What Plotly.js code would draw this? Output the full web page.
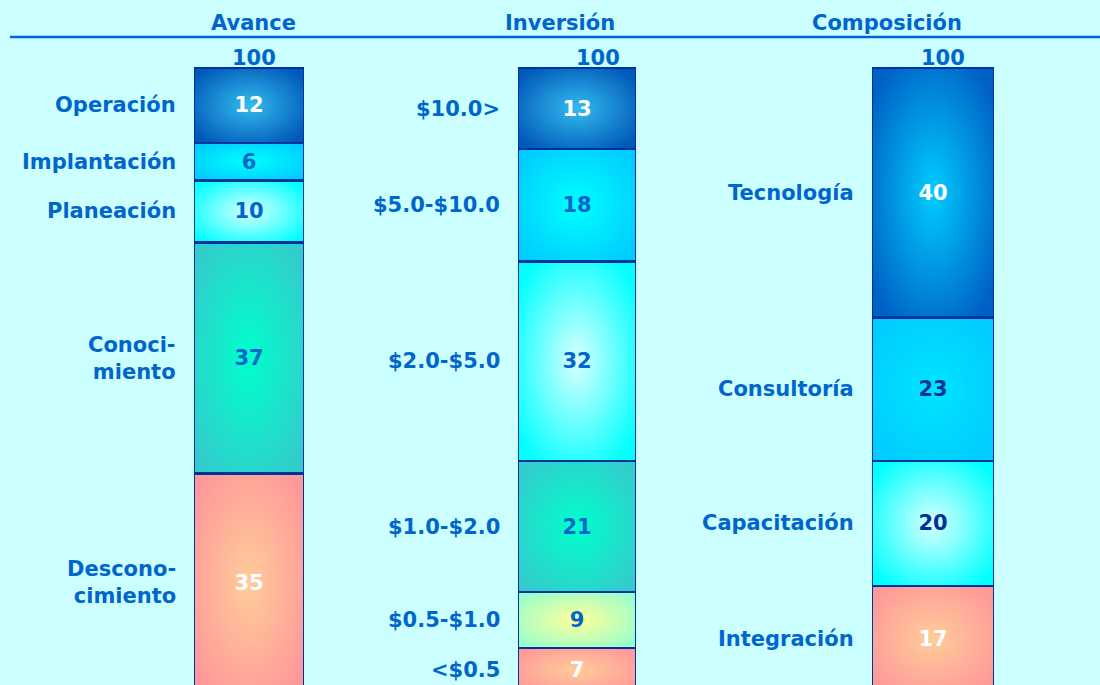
<!DOCTYPE html>
<html>
<head>
<meta charset="utf-8">
<script src="https://cdn.plot.ly/plotly-3.0.1.min.js"></script>
<style>
  html, body { margin: 0; padding: 0; background: #CCFFFF; }
  #chart { width: 1100px; height: 685px; }
</style>
</head>
<body>
<svg width="0" height="0" style="position:absolute">
  <defs id="gradDefs"></defs>
</svg>
<div id="chart"></div>
<script>
// ---------------- DATA (bottom segment first) ----------------
const groupTitles = ['Avance', 'Inversión', 'Composición'];

const avanceCategories = ['Descono-<br>cimiento', 'Conoci-<br>miento', 'Planeación', 'Implantación', 'Operación'];
const avanceValues = [35, 37, 10, 6, 12];

const inversionCategories = ['&lt;$0.5', '$0.5-$1.0', '$1.0-$2.0', '$2.0-$5.0', '$5.0-$10.0', '$10.0>'];
const inversionValues = [7, 9, 21, 32, 18, 13];

const composicionCategories = ['Integración', 'Capacitación', 'Consultoría', 'Tecnología'];
const composicionValues = [17, 20, 23, 40];

// ---------------- STYLES ----------------
// [edge colour, centre colour, value-text colour] per segment
const avanceStyles = [
  ['#FF9999', '#FFCC99', '#FFFFFF'],
  ['#33CCCC', '#00FFCC', '#0066CC'],
  ['#00FFFF', '#D8FFFF', '#0066CC'],
  ['#00CCFF', '#00FFFF', '#0066CC'],
  ['#0058B8', '#33BBEE', '#FFFFFF']
];
const inversionStyles = [
  ['#FF9999', '#FFCC99', '#FFFFFF'],
  ['#99FFCC', '#FFFF99', '#0066CC'],
  ['#33CCCC', '#00FFCC', '#0066CC'],
  ['#00FFFF', '#D8FFFF', '#0066CC'],
  ['#00CCFF', '#00FFFF', '#0066CC'],
  ['#0058B8', '#33BBEE', '#FFFFFF']
];
const composicionStyles = [
  ['#FF9999', '#FFCC99', '#FFFFFF'],
  ['#00FFFF', '#D8FFFF', '#003399'],
  ['#00CCFF', '#00E4FF', '#003399'],
  ['#0060C4', '#00CCFF', '#FFFFFF']
];

const groups = [
  { title: groupTitles[0], cats: avanceCategories, vals: avanceValues, styles: avanceStyles,
    axis: 'x', dom: [194, 304], titleX: 253, totalShift: 5 },
  { title: groupTitles[1], cats: inversionCategories, vals: inversionValues, styles: inversionStyles,
    axis: 'x2', dom: [518, 636], titleX: 560, totalShift: 21 },
  { title: groupTitles[2], cats: composicionCategories, vals: composicionValues, styles: composicionStyles,
    axis: 'x3', dom: [872, 994], titleX: 887, totalShift: 10 }
];

const W = 1100, H = 685;
const FONT = 'DejaVu Sans, Verdana, sans-serif';
const BLUE = '#0066CC';
const FS = 21;

function mix(a, b) {
  const pa = parseInt(a.slice(1), 16), pb = parseInt(b.slice(1), 16);
  const r = ((pa >> 16) + (pb >> 16)) >> 1;
  const g = (((pa >> 8) & 255) + ((pb >> 8) & 255)) >> 1;
  const bl = ((pa & 255) + (pb & 255)) >> 1;
  return 'rgb(' + r + ',' + g + ',' + bl + ')';
}

const traces = [];
const annotations = [];
const gradients = [];
const layout = {
  width: W, height: H,
  margin: { l: 0, r: 0, t: 0, b: 0 },
  paper_bgcolor: '#CCFFFF',
  plot_bgcolor: 'rgba(0,0,0,0)',
  barmode: 'stack',
  bargap: 0,
  showlegend: false,
  font: { family: FONT, color: BLUE },
  yaxis: { range: [1.1, 110.9], visible: false, fixedrange: true },
  shapes: [{
    type: 'line', xref: 'paper', yref: 'paper',
    x0: 10 / W, x1: 1, y0: 1 - 37 / H, y1: 1 - 37 / H,
    line: { color: BLUE, width: 2.5 }
  }],
  annotations: annotations
};

groups.forEach(function (g, gi) {
  const axName = g.axis === 'x' ? 'xaxis' : 'xaxis' + g.axis.slice(1);
  layout[axName] = {
    domain: [g.dom[0] / W, g.dom[1] / W],
    visible: false, fixedrange: true,
    anchor: 'y', type: 'category'
  };
  let cum = 0;
  g.vals.forEach(function (v, i) {
    const st = g.styles[i];
    const gid = 'grad_' + gi + '_' + i;
    gradients.push({ id: gid, edge: st[0], center: st[1], traceIndex: traces.length });
    traces.push({
      type: 'bar',
      x: [g.title], y: [v],
      xaxis: g.axis, yaxis: 'y',
      marker: { color: mix(st[0], st[1]), line: { color: '#0033A0', width: 2.5 } },
      text: [String(v)],
      textposition: 'inside',
      insidetextanchor: 'middle',
      textangle: 0,
      constraintext: 'none',
      textfont: { family: FONT, size: FS, weight: 'bold', color: st[2] },
      hoverinfo: 'skip'
    });
    annotations.push({
      xref: g.axis + ' domain', yref: 'y',
      x: 0, y: cum + v / 2,
      xanchor: 'right', yanchor: 'middle', xshift: -16,
      align: 'right', showarrow: false,
      text: g.cats[i],
      font: { family: FONT, size: FS, weight: 'bold', color: BLUE }
    });
    cum += v;
  });
  // total above bar
  annotations.push({
    xref: g.axis + ' domain', yref: 'y',
    x: 0.5, y: cum, xshift: g.totalShift, yshift: -4,
    xanchor: 'center', yanchor: 'bottom', showarrow: false,
    text: String(cum),
    font: { family: FONT, size: FS, weight: 'bold', color: BLUE }
  });
  // group title
  annotations.push({
    xref: 'paper', yref: 'paper',
    x: g.titleX / W, y: 1 - 23 / H,
    xanchor: 'center', yanchor: 'middle', showarrow: false,
    text: g.title,
    font: { family: FONT, size: FS, weight: 'bold', color: BLUE }
  });
});

// gradient definitions
const defs = document.getElementById('gradDefs');
const NS = 'http://www.w3.org/2000/svg';
gradients.forEach(function (gr) {
  const rg = document.createElementNS(NS, 'radialGradient');
  rg.setAttribute('id', gr.id);
  rg.setAttribute('cx', '0.5'); rg.setAttribute('cy', '0.5'); rg.setAttribute('r', '0.62');
  const s0 = document.createElementNS(NS, 'stop');
  s0.setAttribute('offset', '0'); s0.setAttribute('stop-color', gr.center);
  const s1 = document.createElementNS(NS, 'stop');
  s1.setAttribute('offset', '1'); s1.setAttribute('stop-color', gr.edge);
  rg.appendChild(s0); rg.appendChild(s1);
  defs.appendChild(rg);
});

Plotly.newPlot('chart', traces, layout, { displayModeBar: false, staticPlot: true }).then(function (gd) {
  const byTrace = {};
  gradients.forEach(function (gr) { byTrace[gr.traceIndex] = gr.id; });
  gd.querySelectorAll('.barlayer .trace').forEach(function (tg) {
    const d = tg.__data__;
    const idx = d && d[0] && d[0].trace ? d[0].trace.index : null;
    if (idx === null || byTrace[idx] === undefined) return;
    tg.querySelectorAll('.point path').forEach(function (p) {
      p.style.fill = 'url(#' + byTrace[idx] + ')';
    });
  });
});
</script>
</body>
</html>
